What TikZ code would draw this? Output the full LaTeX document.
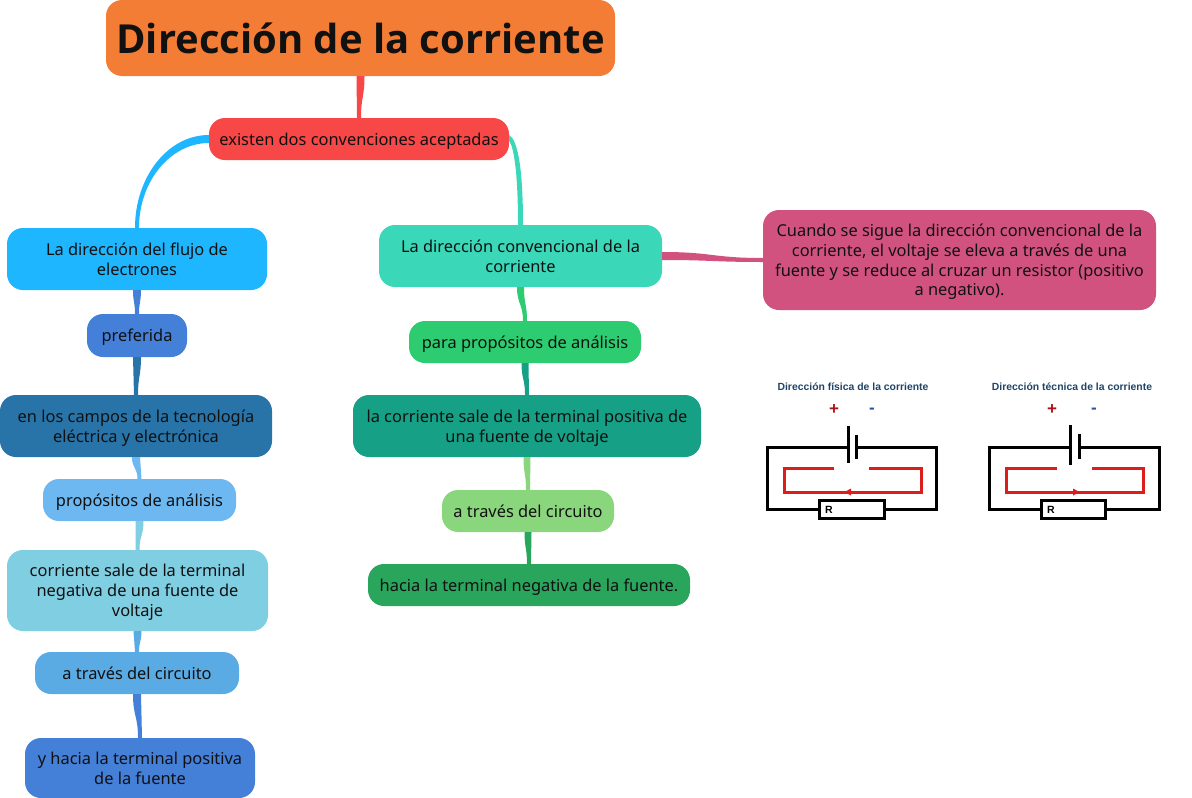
\documentclass[tikz,border=0pt]{standalone}
\usepackage{fontspec}
\setmainfont{Noto Sans}
\newfontfamily\circfont{Liberation Sans}
\newfontfamily\titlefont{Open Sans}
\usetikzlibrary{calc,arrows.meta}
\definecolor{cTitle}{HTML}{F47D36}
\definecolor{cRed}{HTML}{F74747}
\definecolor{cLa}{HTML}{1EB6FF}
\definecolor{cLb}{HTML}{447FD8}
\definecolor{cLc}{HTML}{2874A8}
\definecolor{cLd}{HTML}{6DB8F0}
\definecolor{cLe}{HTML}{80CEE2}
\definecolor{cLf}{HTML}{5AAAE4}
\definecolor{cRa}{HTML}{3AD8B8}
\definecolor{cRb}{HTML}{2ECC71}
\definecolor{cRc}{HTML}{16A085}
\definecolor{cRd}{HTML}{8AD67C}
\definecolor{cRe}{HTML}{29A55C}
\definecolor{cNote}{HTML}{D2527F}
\definecolor{cWire}{HTML}{DD1C1C}
\definecolor{cHead}{HTML}{1F4468}
\definecolor{cPlus}{HTML}{B01116}
\definecolor{cMinus}{HTML}{2A50A0}
\definecolor{cInk}{HTML}{111111}
\tikzset{
  idea/.style={rounded corners=16pt,inner sep=0pt,text=cInk,align=center,font=\fontsize{16.4}{19.8}\selectfont,
    execute at begin node={\rule{0pt}{16.5pt}},execute at end node={\rule[-3.5pt]{0pt}{3.5pt}}},
  twolines/.style={execute at begin node={\rule{0pt}{36.3pt}}},
  threelines/.style={execute at begin node={\rule{0pt}{56.1pt}}},
  fourlines/.style={execute at begin node={\rule{0pt}{75.9pt}}},
  sized/.style 2 args={minimum width=#1pt,minimum height=#2pt},
  wire/.style={draw=black,line width=3pt},
  redwire/.style={draw=cWire,line width=3pt},
  chead/.style={inner sep=0pt,text=cHead,font=\circfont\fontsize{10.4}{12}\selectfont\bfseries},
  csign/.style={inner sep=0pt,font=\circfont\fontsize{17}{18}\selectfont\bfseries},
  rbox/.style={draw=black,line width=3pt,minimum height=18pt,inner sep=0pt},
  rlabel/.style={inner sep=0pt,font=\circfont\fontsize{10.5}{12}\selectfont\bfseries},
}
% colour, from anchor, half width, to anchor, half width
\newcommand\vtaper[5]{\fill[#1] let \p1=(#2),\p2=(#4),\n1={0.5*\y1+0.5*\y2} in
  (\x1-#3pt,\y1) .. controls (\x1-#3pt,\n1) and (\x2-#5pt,\n1) .. (\x2-#5pt,\y2)
  -- (\x2+#5pt,\y2) .. controls (\x2+#5pt,\n1) and (\x1+#3pt,\n1) .. (\x1+#3pt,\y1) -- cycle;}
\newcommand\htaper[5]{\fill[#1] let \p1=(#2),\p2=(#4),\n1={0.5*\x1+0.5*\x2} in
  (\x1,\y1-#3pt) .. controls (\n1,\y1-#3pt) and (\n1,\y2-#5pt) .. (\x2,\y2-#5pt)
  -- (\x2,\y2+#5pt) .. controls (\n1,\y2+#5pt) and (\n1,\y1+#3pt) .. (\x1,\y1+#3pt) -- cycle;}
\begin{document}
\begin{tikzpicture}[x=1pt,y=-1pt]
\useasboundingbox (0,0) rectangle (1192,798);
% nodes
\node[idea,fill=cTitle,sized={509}{76},font=\titlefont\fontsize{40}{44}\selectfont\bfseries,execute at begin node={\rule{0pt}{34pt}}] (title) at (360.5,38) {Dirección de la corriente};
\node[idea,fill=cRed,sized={300}{42}] (root) at (359,139) {existen dos convenciones aceptadas};
\node[idea,twolines,fill=cLa,sized={260}{62}] (la) at (137,259) {La dirección del flujo de\\electrones};
\node[idea,fill=cLb,sized={100}{43}] (lb) at (137,335.5) {preferida};
\node[idea,twolines,fill=cLc,sized={272}{62}] (lc) at (136,426) {en los campos de la tecnología\\eléctrica y electrónica};
\node[idea,fill=cLd,sized={193}{42}] (ld) at (139.5,500) {propósitos de análisis};
\node[idea,threelines,fill=cLe,sized={261}{81}] (le) at (137.5,590.5) {corriente sale de la terminal\\negativa de una fuente de\\voltaje};
\node[idea,fill=cLf,sized={204}{42}] (lf) at (137,673) {a través del circuito};
\node[idea,twolines,fill=cLb,sized={230}{60}] (lg) at (140,768) {y hacia la terminal positiva\\de la fuente};
\node[idea,twolines,fill=cRa,sized={283}{62}] (ra) at (520.5,256) {La dirección convencional de la\\corriente};
\node[idea,fill=cRb,sized={232}{42}] (rb) at (525,342) {para propósitos de análisis};
\node[idea,twolines,fill=cRc,sized={348}{62}] (rc) at (527,426) {la corriente sale de la terminal positiva de\\una fuente de voltaje};
\node[idea,fill=cRd,sized={172}{42}] (rd) at (528,511) {a través del circuito};
\node[idea,fill=cRe,sized={322}{42}] (re) at (529,585) {hacia la terminal negativa de la fuente.};
\node[idea,fourlines,fill=cNote,sized={393}{100}] (note) at (959.5,260) {Cuando se sigue la dirección convencional de la\\corriente, el voltaje se eleva a través de una\\fuente y se reduce al cruzar un resistor (positivo\\a negativo).};
% connectors
\vtaper{cRed}{title.south}{4}{root.north}{2}
\fill[cLa] let \p1=(root.west),\p2=(la.north) in
  (\x1,\y1+4pt) .. controls (\x1-41pt,\y1+4pt) and (\x2-2pt,\y1-38pt) .. (\x2-2pt,\y2)
  -- (\x2+2pt,\y2) .. controls (\x2+2pt,\y1-42pt) and (\x1-38pt,\y1-4pt) .. (\x1,\y1-4pt) -- cycle;
\fill[cRa] let \p1=(root.east),\p2=(ra.north) in
  (\x1,\y1+4pt) .. controls (\x1+8pt,\y1-1pt) and (\x2+2.5pt,\y1-26pt) .. (\x2+2.5pt,\y2)
  -- (\x2-2.5pt,\y2) .. controls (\x2-2.5pt,\y1-36pt) and (\x1+5pt,\y1-9pt) .. (\x1,\y1-2pt) -- cycle;
\htaper{cNote}{ra.east}{4}{note.west}{2}
\vtaper{cLb}{la.south}{4}{lb.north}{2}
\vtaper{cLc}{lb.south}{4}{lc.north}{2}
\vtaper{cLd}{lc.south}{4}{ld.north}{2}
\vtaper{cLe}{ld.south}{4}{le.north}{2}
\vtaper{cLf}{le.south}{4}{lf.north}{2}
\vtaper{cLb}{lf.south}{4}{lg.north}{2}
\vtaper{cRb}{ra.south}{3.5}{rb.north}{2}
\vtaper{cRc}{rb.south}{3.5}{rc.north}{2}
\vtaper{cRd}{rc.south}{3.5}{rd.north}{2}
\vtaper{cRe}{rd.south}{3.5}{re.north}{2}
% left circuit
\node[chead] (h1) at (853,387) {Dirección física de la corriente};
\node[csign,text=cPlus] (p1) at (834,410) {+};
\node[csign,text=cMinus] (m1) at (872,411) {-};
\node[rbox,minimum width=65pt] (r1) at (851.5,509) {};
\node[rlabel] (rl1) at (829,509.5) {R};
\draw[wire] (r1.west) -- (767,509) -- (767,447) -- (848,447);
\draw[wire] (r1.east) -- (936,509) -- (936,447) -- (856,447);
\draw[wire] (848,426) -- (848,463);
\draw[wire] (856,435) -- (856,459);
\draw[redwire] (834,468) -- (784,468) -- (784,492) -- (921,492) -- (921,468) -- (869,468);
\fill[cWire] (844.5,492) -- (851,488.5) -- (851,495.5) -- cycle;
% right circuit
\node[chead] (h2) at (1072,387) {Dirección técnica de la corriente};
\node[csign,text=cPlus] (p2) at (1052,410) {+};
\node[csign,text=cMinus] (m2) at (1094,411) {-};
\node[rbox,minimum width=64pt] (r2) at (1073,509) {};
\node[rlabel] (rl2) at (1051,509.5) {R};
\draw[wire] (r2.west) -- (989,509) -- (989,447) -- (1070,447);
\draw[wire] (r2.east) -- (1159,509) -- (1159,447) -- (1079,447);
\draw[wire] (1070,425) -- (1070,465);
\draw[wire] (1079,434) -- (1079,459);
\draw[redwire] (1057,468) -- (1006,468) -- (1006,492) -- (1143,492) -- (1143,468) -- (1092,468);
\fill[cWire] (1079.5,492) -- (1073,488.5) -- (1073,495.5) -- cycle;
\end{tikzpicture}
\end{document}
